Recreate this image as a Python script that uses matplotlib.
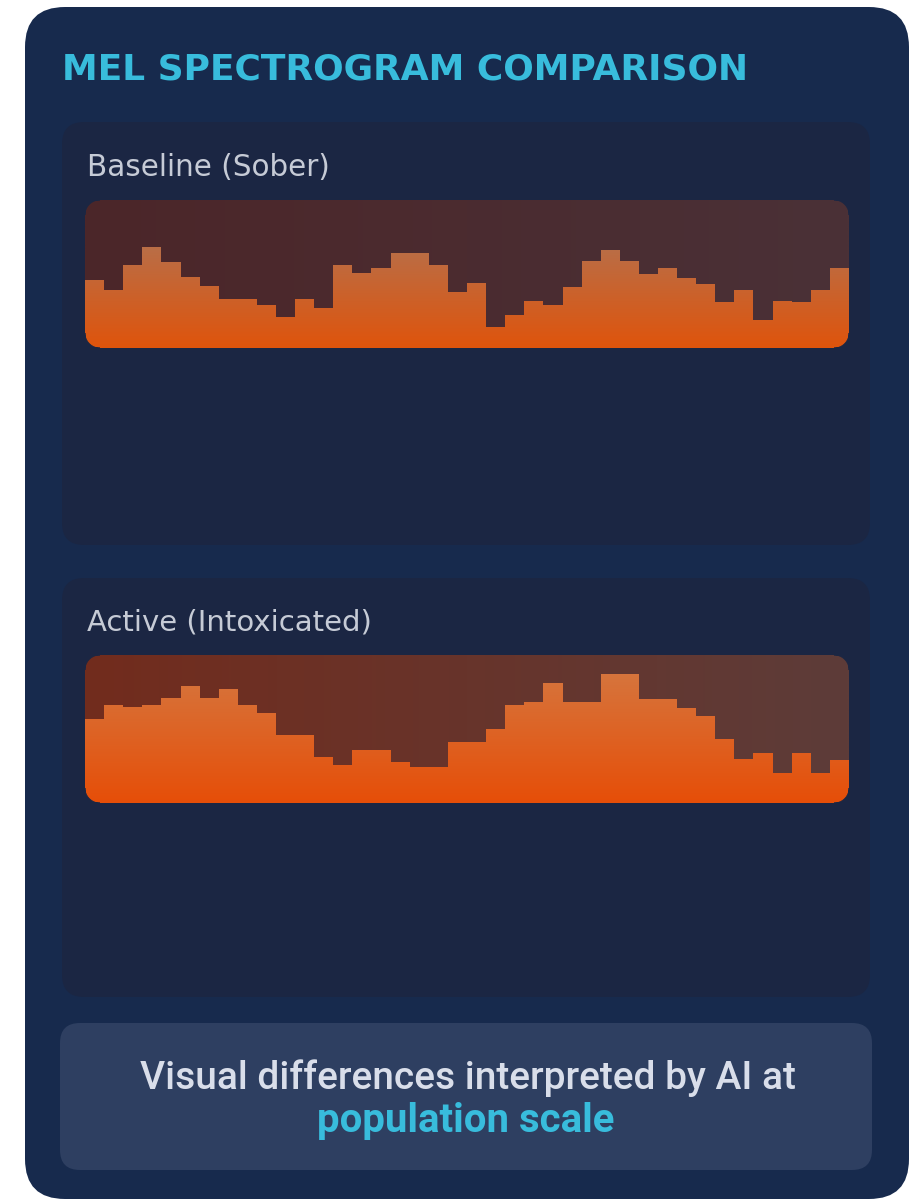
import numpy as np
import matplotlib
matplotlib.use("Agg")
import matplotlib.pyplot as plt
from matplotlib.patches import FancyBboxPatch, Polygon
from matplotlib.path import Path
from matplotlib.colors import to_rgb

# ---------------- data ----------------
title = "MEL SPECTROGRAM COMPARISON"
panel_labels = ["Baseline (Sober)", "Active (Intoxicated)"]
baseline_bins = [0.46, 0.39, 0.56, 0.68, 0.58, 0.48, 0.42, 0.33, 0.33, 0.29,
                 0.21, 0.33, 0.27, 0.56, 0.51, 0.54, 0.64, 0.64, 0.56, 0.38,
                 0.44, 0.14, 0.22, 0.32, 0.29, 0.41, 0.59, 0.66, 0.59, 0.50,
                 0.54, 0.47, 0.43, 0.31, 0.39, 0.19, 0.32, 0.31, 0.39, 0.54]
active_bins = [0.57, 0.66, 0.65, 0.66, 0.71, 0.79, 0.71, 0.77, 0.66, 0.61,
               0.46, 0.46, 0.31, 0.26, 0.36, 0.36, 0.28, 0.24, 0.24, 0.41,
               0.41, 0.50, 0.66, 0.68, 0.81, 0.68, 0.68, 0.87, 0.87, 0.70,
               0.70, 0.64, 0.59, 0.43, 0.30, 0.34, 0.20, 0.34, 0.20, 0.29]
footer_line1 = "Visual differences interpreted by AI at"
footer_line2 = "population scale"

# ---------------- style ----------------
W, H = 916, 1202
CARD = "#172a4d"
PANEL = "#1b2643"
FOOT = "#2e3f61"
CYAN = "#38bcdc"
LABEL = "#c6cbd6"

fig = plt.figure(figsize=(W / 100, H / 100), dpi=100)
fig.patch.set_facecolor("white")
bg = fig.add_axes([0, 0, 1, 1])
bg.set_xlim(0, W)
bg.set_ylim(H, 0)
bg.axis("off")


def rbox(x0, y0, x1, y1, r, color, z=1, ax=None, **kw):
    ax = ax or bg
    p = FancyBboxPatch((x0 + r, y0 + r), (x1 - x0 - 2 * r), (y1 - y0 - 2 * r),
                       boxstyle=f"round,pad={r},rounding_size={r}",
                       facecolor=color, edgecolor="none", zorder=z,
                       transform=bg.transData, **kw)
    ax.add_patch(p)
    return p


rbox(25, 7, 909, 1199, 40, CARD, z=1)
rbox(62, 122, 870, 545, 22, PANEL, z=2)
rbox(62, 578, 870, 997, 22, PANEL, z=2)
rbox(60, 1023, 872, 1170, 20, FOOT, z=2)

fig.canvas.draw()
renderer = fig.canvas.get_renderer()


def fit(t, target):
    for _ in range(4):
        bb = t.get_window_extent(renderer)
        t.set_fontsize(t.get_fontsize() * target / bb.width)
    return t


t = bg.text(62, 80, title, color=CYAN, fontsize=26, fontweight="bold",
            family="DejaVu Sans", ha="left", va="baseline", zorder=5)
fit(t, 686)
t = bg.text(87, 176, panel_labels[0], color=LABEL, fontsize=18,
            family="DejaVu Sans", ha="left", va="baseline", zorder=5)
fit(t, 243)
t = bg.text(87, 630, panel_labels[1], color=LABEL, fontsize=18,
            family="DejaVu Sans", ha="left", va="baseline", zorder=5)
fit(t, 285)
t = bg.text(468, 1089, footer_line1, color="#d9deea", fontsize=22,
            family="Roboto", fontweight="medium", ha="center", va="baseline", zorder=5)
fit(t, 657)
t = bg.text(466, 1132, footer_line2, color=CYAN, fontsize=22, fontweight="bold",
            family="Roboto", ha="center", va="baseline", zorder=5)
fit(t, 298)


def spectro(vals, x0, y0, x1, y1, bg_left, bg_right, bar_top, bar_bot, r=15):
    ax = fig.add_axes([x0 / W, 1 - y1 / H, (x1 - x0) / W, (y1 - y0) / H])
    ax.set_zorder(3)
    n = len(vals)
    ax.set_xlim(0, n)
    ax.set_ylim(0, 1)
    ax.axis("off")
    # background horizontal gradient
    cl, cr = np.array(to_rgb(bg_left)), np.array(to_rgb(bg_right))
    g = np.linspace(0, 1, 256)[None, :, None]
    img = cl[None, None, :] * (1 - g) + cr[None, None, :] * g
    ax.imshow(img, extent=(0, n, 0, 1), aspect="auto", zorder=0, interpolation="bilinear")
    # bars
    bars = ax.bar(np.arange(n) + 0.5, vals, width=1.0, color="none",
                  edgecolor="none", zorder=1)
    paths = [b.get_path().transformed(b.get_patch_transform()) for b in bars]
    comp = Path.make_compound_path(*paths)
    ct, cb = np.array(to_rgb(bar_top)), np.array(to_rgb(bar_bot))
    gv = np.linspace(0, 1, 256)[:, None, None]
    vimg = ct[None, None, :] * (1 - gv) + cb[None, None, :] * gv
    im = ax.imshow(vimg, extent=(0, n, 0, 1), aspect="auto", origin="upper",
                   zorder=2, interpolation="bilinear")
    im.set_clip_path(comp, ax.transData)
    # rounded corner masks (in pixel coords of the background axes)
    k = np.linspace(0, np.pi / 2, 20)
    corners = [((x0, y0), (x0 + r, y0 + r), np.pi),
               ((x1, y0), (x1 - r, y0 + r), 1.5 * np.pi),
               ((x1, y1), (x1 - r, y1 - r), 0.0),
               ((x0, y1), (x0 + r, y1 - r), 0.5 * np.pi)]
    for (cx, cy), (ox, oy), a0 in corners:
        arc = [(ox + r * np.cos(a0 + a), oy + r * np.sin(a0 + a)) for a in k]
        poly = Polygon([(cx, cy)] + arc, closed=True, facecolor=PANEL,
                       edgecolor=PANEL, linewidth=0.5, transform=bg.transData,
                       zorder=10, clip_on=False)
        ax.add_patch(poly)
    return ax


spectro(baseline_bins, 85, 200, 849, 348, "#4c2629", "#4a3137", "#a87a62", "#df540c")
spectro(active_bins, 85, 655, 849, 803, "#722c1d", "#5d3c39", "#d47a44", "#e64e08")

fig.savefig("out.png", dpi=100, facecolor="white")
